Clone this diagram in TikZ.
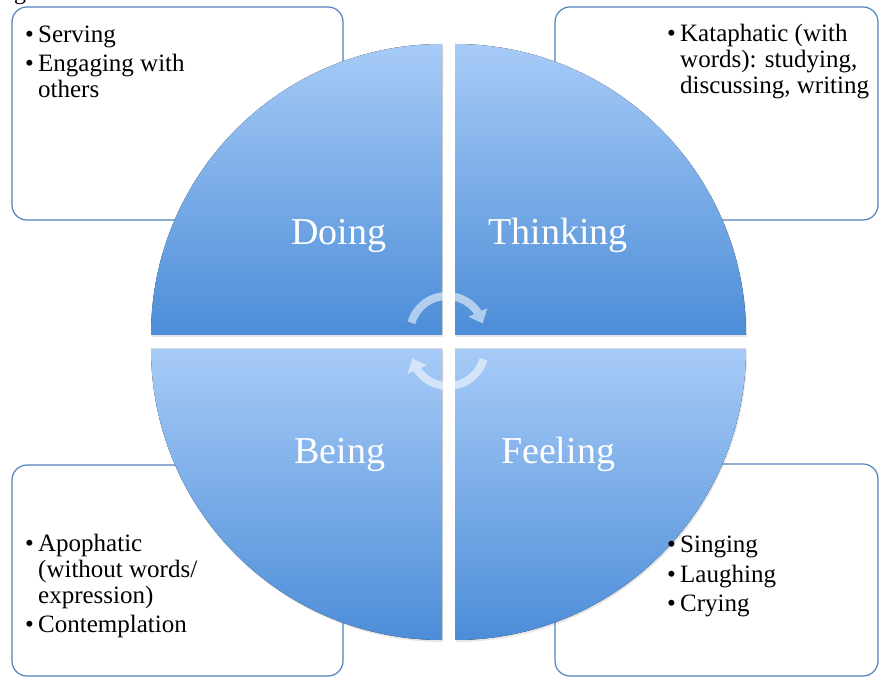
\documentclass[tikz,border=0pt]{standalone}
\usepackage{fontspec}
\setmainfont{Liberation Serif}
\usetikzlibrary{arrows.meta,bending,shadows}

\definecolor{boxline}{RGB}{79,129,189}
\definecolor{quadtop}{RGB}{167,203,247}
\definecolor{quadbot}{RGB}{76,141,216}

\newcommand{\bul}{\makebox[13pt][l]{\textbullet}}
\newcommand{\hng}{\hspace*{13pt}}

\begin{document}
\begin{tikzpicture}[x=1pt,y=1pt,
  item box/.style={draw=boxline,line width=1.2pt,rounded corners=15pt,fill=white},
  quad/.style={top color=quadtop,bottom color=quadbot,draw=none,
    drop shadow={opacity=0.2,shadow xshift=1pt,shadow yshift=-2pt}},
  label/.style={text=white,font=\fontsize{38}{40}\selectfont,anchor=base,inner sep=0pt},
  list/.style={align=left,anchor=base west,inner sep=0pt,font=\fontsize{25}{26}\selectfont},
  turn/.style={draw=white,line width=8pt,-{Triangle[width=20pt,length=12pt]}}]

\useasboundingbox (0,0) rectangle (879,677);

% caption cut off at the top edge
\node[anchor=base west,inner sep=0pt,font=\fontsize{24}{26}\selectfont] (caption) at (14,677) {g};

% boxes behind the circle
\draw[item box] (12,457) rectangle (343,670);
\draw[item box] (555,457) rectangle (878,670);
\draw[item box] (12,1) rectangle (343,212);
\draw[item box] (555,1) rectangle (878,213);

% the four quarters
\fill[quad] (442,342) -- (151,342) arc[start angle=180,end angle=90,radius=291] -- cycle;
\fill[quad] (455,342) -- (455,633) arc[start angle=90,end angle=0,radius=291] -- cycle;
\fill[quad] (442,328) -- (151,328) arc[start angle=180,end angle=270,radius=291] -- cycle;
\fill[quad] (455,328) -- (746,328) arc[start angle=0,end angle=-90,radius=291] -- cycle;

\node[label] (doing) at (339,432) {Doing};
\node[label] (thinking) at (558,432) {Thinking};
\node[label] (being) at (340,213) {Being};
\node[label] (feeling) at (558,213) {Feeling};

% cycle arrows in the middle
\coordinate (ctop) at (447,344);
\coordinate (cbot) at (448,328);
\begin{scope}[transparency group,opacity=0.55]
\draw[turn,shift={(ctop)}] (164:37) arc[start angle=164,end angle=15,radius=37];
\draw[turn,shift={(cbot)}] (-16:37) arc[start angle=-16,end angle=-165,radius=37];
\end{scope}

% texts in the boxes
\node[list] (doinglist) at (25,579)
  {\bul Serving\\[3pt] \bul Engaging with\\ \hng others};
\node[list] (thinkinglist) at (667,583)
  {\bul Kataphatic (with\\ \hng words): studying,\\ \hng discussing, writing};
\node[list] (beinglist) at (25,44)
  {\bul Apophatic\\ \hng (without words/\\ \hng expression)\\[3pt] \bul Contemplation};
\node[list] (feelinglist) at (667,65)
  {\bul Singing\\[3.5pt] \bul Laughing\\[3.5pt] \bul Crying};

\end{tikzpicture}
\end{document}
